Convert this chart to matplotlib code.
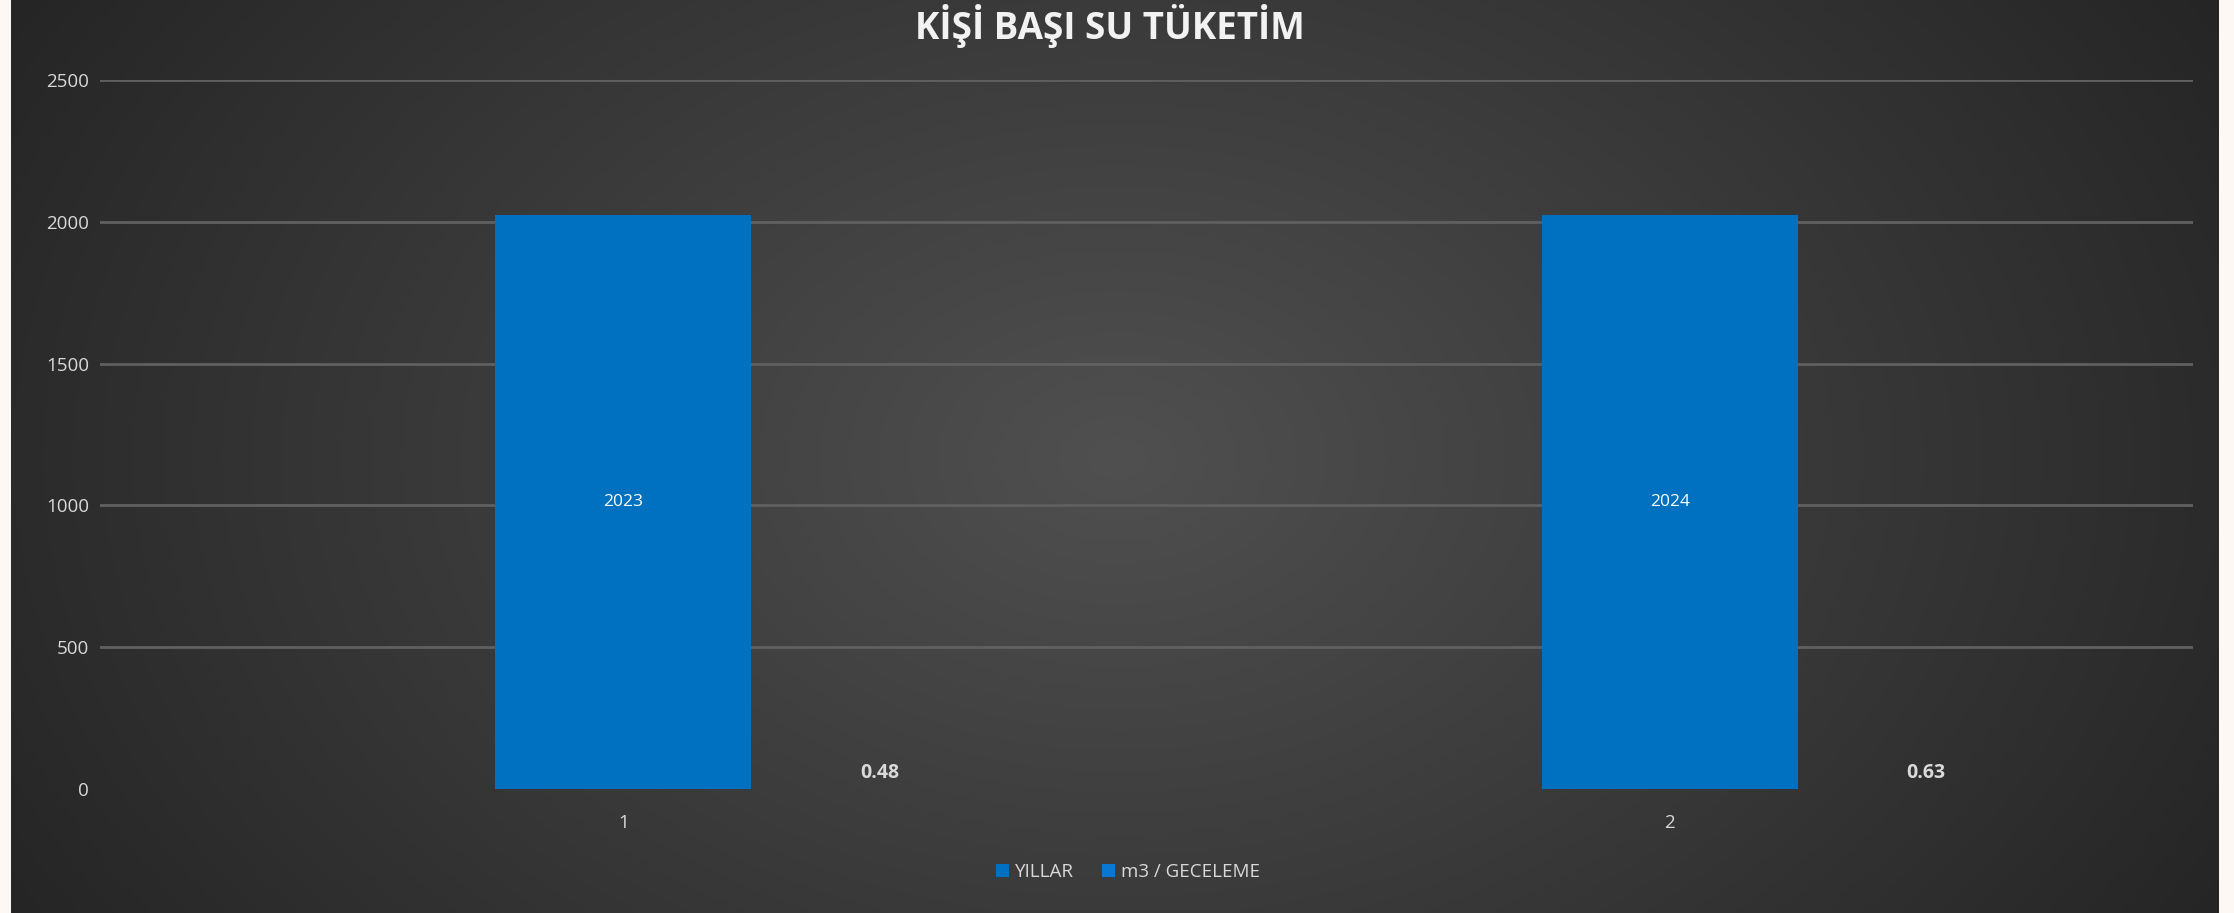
import numpy as np
import matplotlib
matplotlib.use("Agg")
import matplotlib.pyplot as plt

# ---- data ----
categories = ["1", "2"]
series_names = ["YILLAR", "m3 / GECELEME"]
yillar = [2023, 2024]
m3_geceleme = [0.48, 0.63]
title = "KİŞİ BAŞI SU TÜKETİM"
yticks = [0, 500, 1000, 1500, 2000, 2500]

W, H = 2234, 913
fig = plt.figure(figsize=(W / 100, H / 100), dpi=100)
fig.patch.set_facecolor("#FDF8F3")

# dark radial gradient background panel
bg = fig.add_axes([11 / W, 0, (2219 - 11) / W, 1], zorder=0)
ny, nx = 200, 480
yy, xx = np.mgrid[0:ny, 0:nx]
cx, cy = nx * 0.5, ny * 0.5
d = np.sqrt(((xx - cx) / (nx * 0.5)) ** 2 + ((yy - cy) / (ny * 0.5)) ** 2 * 0.35)
d = np.clip(d / d.max(), 0, 1)
c_in = np.array([0x50, 0x50, 0x50]) / 255
c_out = np.array([0x25, 0x25, 0x25]) / 255
img = c_in[None, None, :] * (1 - d[..., None]) + c_out[None, None, :] * d[..., None]
bg.imshow(img, aspect="auto", extent=[0, 1, 0, 1], interpolation="bicubic")
bg.set_axis_off()

font = "Open Sans"
text_col = "#D9D9D9"

ax = fig.add_axes([100 / W, (H - 789) / H, (2193 - 100) / W, (789 - 80) / H], zorder=1)
ax.set_facecolor("none")
x = np.arange(1, len(categories) + 1)
w = 0.245
b1 = ax.bar(x, yillar, width=w, color="#0070C0", label=series_names[0], zorder=2)
b2 = ax.bar(x + w, m3_geceleme, width=w, color="#0A78D2", label=series_names[1], zorder=2)

ax.bar_label(b1, labels=[str(v) for v in yillar], label_type="center",
             color="white", fontsize=12.5, family=font)
ax.bar_label(b2, labels=[f"{v:.2f}" for v in m3_geceleme], padding=4,
             color=text_col, fontsize=14, family=font, fontweight="bold")

ax.set_xlim(0.5, 2.5)
ax.set_ylim(0, 2500)
ax.set_yticks(yticks)
ax.set_yticklabels([str(t) for t in yticks], color=text_col, fontsize=13.5, family=font)
ax.set_xticks(x)
ax.set_xticklabels(categories, color=text_col, fontsize=13.5, family=font)
ax.tick_params(axis="both", length=0)
ax.tick_params(axis="y", pad=8)
ax.tick_params(axis="x", pad=18)
ax.grid(axis="y", color="#606060", linewidth=2, zorder=0)
ax.set_axisbelow(True)
ax.get_ygridlines()[0].set_visible(False)
for s in ax.spines.values():
    s.set_visible(False)

fig.text(1110 / W, 1 - 26 / H, title, ha="center", va="center", color="#F2F2F2",
         fontsize=26.5, fontweight="bold", family=font)

leg = fig.legend(handles=[b1, b2], labels=series_names, loc="center",
                 bbox_to_anchor=(1128 / W, 1 - 872 / H), ncol=2, frameon=False,
                 handlelength=0.7, handleheight=0.7, handletextpad=0.3,
                 columnspacing=1.5, prop={"family": font, "size": 13.5})
for t in leg.get_texts():
    t.set_color(text_col)

fig.savefig("out.png", dpi=100, facecolor=fig.get_facecolor())
